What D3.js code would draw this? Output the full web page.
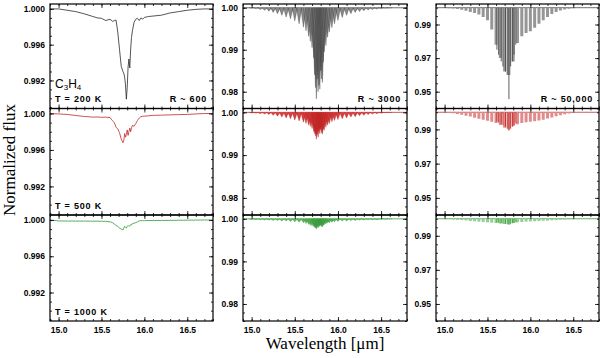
<!DOCTYPE html>
<html>
<head>
<meta charset="utf-8">
<script src="https://cdn.jsdelivr.net/npm/d3@7"></script>
<style>
body { margin: 0; background: #fff; }
svg { display: block; }
.tick text { font-family: "Liberation Sans", Arial, sans-serif; font-weight: bold; font-size: 8.5px; fill: #000; }
.note { font-family: "Liberation Sans", Arial, sans-serif; font-weight: bold; font-size: 9px; letter-spacing: 0.8px; }
.title { font-family: "Liberation Serif", "Times New Roman", serif; font-size: 17px; }
</style>
</head>
<body>
<svg id="chart" width="600" height="358"></svg>
<script>
// ---- R ~ 600: sampled spectra (wavelength in micron, normalized flux)
var wl600 = [14.90, 15.00, 15.10, 15.20, 15.30, 15.40, 15.45, 15.50, 15.55, 15.60,
    15.63, 15.65, 15.67, 15.69, 15.71, 15.73, 15.75, 15.76, 15.77, 15.78,
    15.79, 15.80, 15.81, 15.82, 15.83, 15.84, 15.85, 15.86, 15.88, 15.90,
    15.92, 15.94, 15.96, 15.98, 16.00, 16.05, 16.10, 16.20, 16.30, 16.40,
    16.50, 16.60, 16.70, 16.80];
var flux600_200 = [1.0000, 1.0000, 0.99985, 0.9997, 0.99945, 0.99915, 0.9990, 0.99895, 0.9987, 0.99885,
    0.9986, 0.99870, 0.99875, 0.9974, 0.9955, 0.9936, 0.9930, 0.9928, 0.9924, 0.9915,
    0.9899, 0.9912, 0.9935, 0.9944, 0.9934, 0.9955, 0.9968, 0.9975, 0.9985, 0.99885,
    0.99895, 0.9987, 0.9990, 0.99885, 0.99905, 0.99915, 0.9992, 0.9993, 0.99955, 0.9997,
    0.99985, 0.99995, 1.0000, 1.0000];
var flux600_500 = [1.0000, 0.99995, 0.9999, 0.99978, 0.99968, 0.9996, 0.99962, 0.99958, 0.9996, 0.99955,
    0.9992, 0.9990, 0.9985, 0.9983, 0.9979, 0.9972, 0.9968, 0.9970, 0.9978, 0.9974,
    0.9977, 0.9982, 0.9976, 0.9980, 0.9984, 0.9980, 0.9984, 0.9987, 0.9986, 0.9989,
    0.99925, 0.9995, 0.99965, 0.9997, 0.9997, 0.99975, 0.9998, 0.99982, 0.99985, 0.99988,
    0.9999, 0.99995, 1.0000, 1.0000];
var flux600_1000 = [1.0000, 0.9999, 0.99988, 0.99988, 0.99988, 0.99987, 0.99987, 0.99986, 0.99985, 0.9998,
    0.9997, 0.99955, 0.9994, 0.9993, 0.9991, 0.9990, 0.9989, 0.9991, 0.9993, 0.9992,
    0.9991, 0.9993, 0.9994, 0.9993, 0.99935, 0.9995, 0.99945, 0.9996, 0.99965, 0.9997,
    0.9998, 0.9999, 0.99992, 0.99993, 0.99993, 0.99994, 0.99995, 0.99995, 0.99996, 0.99997,
    0.99998, 0.99999, 1.0000, 1.0000];

// ---- R ~ 3000: line centres and line-core fluxes
var lines3000 = [15.00, 15.05, 15.10, 15.15, 15.20, 15.25, 15.30, 15.35, 15.40, 15.45,
    15.50, 15.55, 15.60, 15.63, 15.66, 15.68, 15.70, 15.72, 15.73, 15.74,
    15.75, 15.76, 15.77, 15.78, 15.79, 15.80, 15.81, 15.82, 15.83, 15.84,
    15.86, 15.88, 15.90, 15.93, 15.96, 16.00, 16.05, 16.10, 16.15, 16.20,
    16.25, 16.30, 16.35, 16.40, 16.45, 16.50, 16.55, 16.60];
var core3000_200 = [0.9999, 0.9998, 0.9996, 0.9994, 0.9992, 0.9989, 0.9986, 0.9982, 0.9978, 0.9974,
    0.9969, 0.9962, 0.9954, 0.9945, 0.9932, 0.9920, 0.9905, 0.9880, 0.9840, 0.9810,
    0.9783, 0.9830, 0.9800, 0.9815, 0.9806, 0.9850, 0.9830, 0.9822, 0.9870, 0.9895,
    0.9910, 0.9930, 0.9942, 0.9953, 0.9962, 0.9970, 0.9977, 0.9982, 0.9986, 0.9989,
    0.9991, 0.9993, 0.9995, 0.9996, 0.9997, 0.9998, 0.9999, 0.99995];
var core3000_500 = [0.99985, 0.9998, 0.9997, 0.9996, 0.9995, 0.9993, 0.9991, 0.9989, 0.9987, 0.9985,
    0.9982, 0.9980, 0.9977, 0.9974, 0.9970, 0.9967, 0.9962, 0.9955, 0.9950, 0.9945,
    0.9937, 0.9948, 0.9942, 0.9955, 0.9950, 0.9960, 0.9952, 0.9949, 0.9960, 0.9958,
    0.9965, 0.9970, 0.9974, 0.9978, 0.9981, 0.9983, 0.9985, 0.9987, 0.9989, 0.9990,
    0.9992, 0.9993, 0.9995, 0.9996, 0.9997, 0.9998, 0.9999, 0.99995];
var core3000_1000 = [0.99985, 0.9998, 0.9998, 0.9997, 0.9997, 0.9996, 0.9996, 0.9995, 0.9995, 0.9994,
    0.9993, 0.9992, 0.9991, 0.9989, 0.9987, 0.9985, 0.9983, 0.9982, 0.9980, 0.9978,
    0.9976, 0.9980, 0.9979, 0.9983, 0.9982, 0.9985, 0.9982, 0.9981, 0.9985, 0.9986,
    0.9988, 0.9990, 0.9991, 0.9992, 0.9993, 0.9994, 0.9995, 0.9995, 0.9996, 0.9996,
    0.9997, 0.9997, 0.9998, 0.9998, 0.9998, 0.9999, 0.9999, 0.99995];

// ---- R ~ 50,000: resolved P/R lines plus the Q-branch cluster
var lines50k = [15.00, 15.05, 15.10, 15.15, 15.20, 15.25, 15.30, 15.35, 15.40, 15.45,
    15.50, 15.55, 15.60, 15.65, 15.70, 15.75, 15.80, 15.85, 15.90, 15.95,
    16.00, 16.05, 16.10, 16.15, 16.20, 16.25, 16.30, 16.35, 16.40, 16.45,
    16.50, 16.55, 16.60];
var core50k_200 = [0.9998, 0.9997, 0.9995, 0.9992, 0.9988, 0.9982, 0.9975, 0.9968, 0.9960, 0.9945,
    0.9925, 0.9870, 0.9780, 0.9700, 0.9620, 0.9600, 0.9680, 0.9790, 0.9830, 0.9850,
    0.9860, 0.9880, 0.9905, 0.9925, 0.9945, 0.9962, 0.9975, 0.9984, 0.9990, 0.9994,
    0.9996, 0.9998, 0.9999];
var core50k_500 = [0.9998, 0.9997, 0.9994, 0.9990, 0.9986, 0.9980, 0.9975, 0.9968, 0.9962, 0.9956,
    0.9950, 0.9944, 0.9937, 0.9925, 0.9910, 0.9900, 0.9920, 0.9930, 0.9937, 0.9942,
    0.9945, 0.9948, 0.9952, 0.9957, 0.9963, 0.9970, 0.9977, 0.9983, 0.9989, 0.9993,
    0.9996, 0.9998, 0.9999];
var core50k_1000 = [0.9999, 0.9998, 0.9996, 0.9994, 0.9992, 0.9990, 0.9987, 0.9985, 0.9983, 0.9981,
    0.9979, 0.9977, 0.9975, 0.9972, 0.9969, 0.9967, 0.9975, 0.9979, 0.9981, 0.9983,
    0.9984, 0.9985, 0.9987, 0.9988, 0.9989, 0.9991, 0.9992, 0.9994, 0.9995, 0.9996,
    0.9997, 0.9998, 0.9999];
var qLines50k = [15.61, 15.63, 15.66, 15.68, 15.71, 15.73, 15.75, 15.77, 15.79, 15.81, 15.83];
var qCore50k_200 = [0.9750, 0.9720, 0.9680, 0.9650, 0.9620, 0.9600, 0.9456, 0.9650, 0.9680, 0.9720, 0.9780];
var qCore50k_500 = [0.9945, 0.9940, 0.9932, 0.9925, 0.9915, 0.9905, 0.9893, 0.9905, 0.9915, 0.9925, 0.9935];
var qCore50k_1000 = [0.9978, 0.9976, 0.9974, 0.9972, 0.9970, 0.9968, 0.9965, 0.9970, 0.9974, 0.9976, 0.9979];

// ---- labels and ticks
var tempLabels = ["T = 200 K", "T = 500 K", "T = 1000 K"];
var resLabels = ["R ~ 600", "R ~ 3000", "R ~ 50,000"];
var xTicks = [15.0, 15.5, 16.0, 16.5];
var yTicks600 = [1.000, 0.996, 0.992];
var yTicks3000 = [1.00, 0.99, 0.98];
var yTicks50k = [0.99, 0.97, 0.95];

// ---- layout
var colLeft = [50, 243, 436],
    colRight = [213, 407, 599],
    rowTop = [4, 108.5, 215],
    rowBottom = [108.5, 215, 321],
    xDomain = [14.9, 16.8],
    yDomains = [[0.98886, 1.00055], [0.9760, 1.0009], [0.9400, 1.0022]],
    yMinorStep = [0.001, 0.002, 0.005],
    yFormat = [d3.format(".3f"), d3.format(".2f"), d3.format(".2f")];

var rowStyle = [
    {line: "#2a2a2a", fill: "#8a8a8a", edge: "#303030", stripe: "#969696", q: "#4a4a4a"},
    {line: "#c0282a", fill: "#d64040", edge: "#b01818", stripe: "#e08c8c", q: "#c42a2a"},
    {line: "#2f9a34", fill: "#5cb85c", edge: "#2a8a2e", stripe: "#94cf94", q: "#3a9f3a"}
];

var spectra600 = [flux600_200, flux600_500, flux600_1000];
var cores3000 = [core3000_200, core3000_500, core3000_1000];
var cores50k = [core50k_200, core50k_500, core50k_1000];
var qCores50k = [qCore50k_200, qCore50k_500, qCore50k_1000];

var svg = d3.select("#chart");

function drawPanel(row, col) {
    var style = rowStyle[row];
    var x = d3.scaleLinear().domain(xDomain).range([colLeft[col], colRight[col]]);
    var y = d3.scaleLinear().domain(yDomains[col]).range([rowBottom[row], rowTop[row]]);

    var clipId = "clip-" + row + "-" + col;
    svg.append("clipPath").attr("id", clipId)
      .append("rect")
        .attr("x", colLeft[col]).attr("y", rowTop[row])
        .attr("width", colRight[col] - colLeft[col])
        .attr("height", rowBottom[row] - rowTop[row]);

    var g = svg.append("g").attr("clip-path", "url(#" + clipId + ")");

    if (col === 0) {
        var line = d3.line().x(function(d) { return x(d[0]); }).y(function(d) { return y(d[1]); });
        g.append("path")
            .datum(d3.zip(wl600, spectra600[row]))
            .attr("d", line)
            .attr("fill", "none")
            .attr("stroke", style.line)
            .attr("stroke-width", 0.8)
            .attr("stroke-linejoin", "round");
    } else {
        // continuum
        g.append("line")
            .attr("x1", x(xDomain[0])).attr("x2", x(xDomain[1]))
            .attr("y1", y(1)).attr("y2", y(1))
            .attr("stroke", style.edge)
            .attr("stroke-width", 0.7);
    }

    if (col === 1) {
        var hw = 0.03;
        var lines = d3.zip(lines3000, cores3000[row]);
        function vee(d) {
            return "M" + x(d[0] - hw) + "," + y(1) + "L" + x(d[0]) + "," + y(d[1]) + "L" + x(d[0] + hw) + "," + y(1);
        }
        g.selectAll("path.fill").data(lines).enter().append("path")
            .attr("class", "fill")
            .attr("d", vee)
            .attr("fill", style.fill)
            .attr("stroke", "none");
        g.selectAll("path.edge").data(lines).enter().append("path")
            .attr("class", "edge")
            .attr("d", vee)
            .attr("fill", "none")
            .attr("stroke", style.edge)
            .attr("stroke-width", 0.35);
    }

    if (col === 2) {
        g.selectAll("line.stripe").data(d3.zip(lines50k, cores50k[row])).enter().append("line")
            .attr("class", "stripe")
            .attr("x1", function(d) { return x(d[0]); })
            .attr("x2", function(d) { return x(d[0]); })
            .attr("y1", y(1))
            .attr("y2", function(d) { return y(d[1]); })
            .attr("stroke", style.stripe)
            .attr("stroke-width", 3);
        g.selectAll("line.q").data(d3.zip(qLines50k, qCores50k[row])).enter().append("line")
            .attr("class", "q")
            .attr("x1", function(d) { return x(d[0]); })
            .attr("x2", function(d) { return x(d[0]); })
            .attr("y1", y(1))
            .attr("y2", function(d) { return y(d[1]); })
            .attr("stroke", style.q)
            .attr("stroke-width", 0.9);
    }

    // axes, ticks pointing inward on all four sides
    var yMajor = [yTicks600, yTicks3000, yTicks50k][col];
    var step = yMinorStep[col];
    var yMinor = d3.range(Math.ceil(yDomains[col][0] / step) * step, yDomains[col][1], step);
    var xMinor = d3.range(14.9, 16.8001, 0.1);

    function addAxis(axis, tx, ty) {
        var a = svg.append("g")
            .attr("transform", "translate(" + tx + "," + ty + ")")
            .call(axis);
        a.select(".domain").remove();
        a.selectAll("line").attr("stroke", "#000").attr("stroke-width", 0.8);
        return a;
    }

    addAxis(d3.axisLeft(y).tickValues(yMajor).tickSize(-4).tickPadding(5).tickFormat(yFormat[col]), colLeft[col], 0);
    addAxis(d3.axisLeft(y).tickValues(yMinor).tickSize(-2).tickFormat(""), colLeft[col], 0);
    addAxis(d3.axisRight(y).tickValues(yMajor).tickSize(-4).tickFormat(""), colRight[col], 0);
    addAxis(d3.axisRight(y).tickValues(yMinor).tickSize(-2).tickFormat(""), colRight[col], 0);

    var xb = d3.axisBottom(x).tickValues(xTicks).tickSize(-4).tickPadding(6)
        .tickFormat(row === 2 ? d3.format(".1f") : "");
    addAxis(xb, 0, rowBottom[row]);
    addAxis(d3.axisBottom(x).tickValues(xMinor).tickSize(-2).tickFormat(""), 0, rowBottom[row]);
    addAxis(d3.axisTop(x).tickValues(xTicks).tickSize(-4).tickFormat(""), 0, rowTop[row]);
    addAxis(d3.axisTop(x).tickValues(xMinor).tickSize(-2).tickFormat(""), 0, rowTop[row]);

    svg.append("rect")
        .attr("x", colLeft[col]).attr("y", rowTop[row])
        .attr("width", colRight[col] - colLeft[col])
        .attr("height", rowBottom[row] - rowTop[row])
        .attr("fill", "none")
        .attr("stroke", "#000")
        .attr("stroke-width", 1.2);
}

for (var r = 0; r < 3; r++) {
    for (var c = 0; c < 3; c++) drawPanel(r, c);
}

// panel notes
for (var r = 0; r < 3; r++) {
    svg.append("text").attr("class", "note")
        .attr("x", colLeft[0] + 5).attr("y", rowBottom[r] - 6.5)
        .text(tempLabels[r]);
}
for (var c = 0; c < 3; c++) {
    svg.append("text").attr("class", "note")
        .attr("x", colRight[c] - 6).attr("y", rowBottom[0] - 6.5)
        .attr("text-anchor", "end")
        .text(resLabels[c]);
}

var mol = svg.append("text")
    .attr("x", colLeft[0] + 5).attr("y", 88)
    .style("font-family", "Liberation Sans, Arial, sans-serif")
    .style("font-size", "12px");
mol.append("tspan").text("C");
mol.append("tspan").attr("dy", 2).style("font-size", "8px").text("3");
mol.append("tspan").attr("dy", -2).text("H");
mol.append("tspan").attr("dy", 2).style("font-size", "8px").text("4");

// axis titles
svg.append("text").attr("class", "title")
    .attr("x", 325).attr("y", 349)
    .attr("text-anchor", "middle")
    .text("Wavelength [\u03bcm]");

svg.append("text").attr("class", "title")
    .attr("transform", "translate(15,160) rotate(-90)")
    .attr("text-anchor", "middle")
    .text("Normalized flux");
</script>
</body>
</html>
